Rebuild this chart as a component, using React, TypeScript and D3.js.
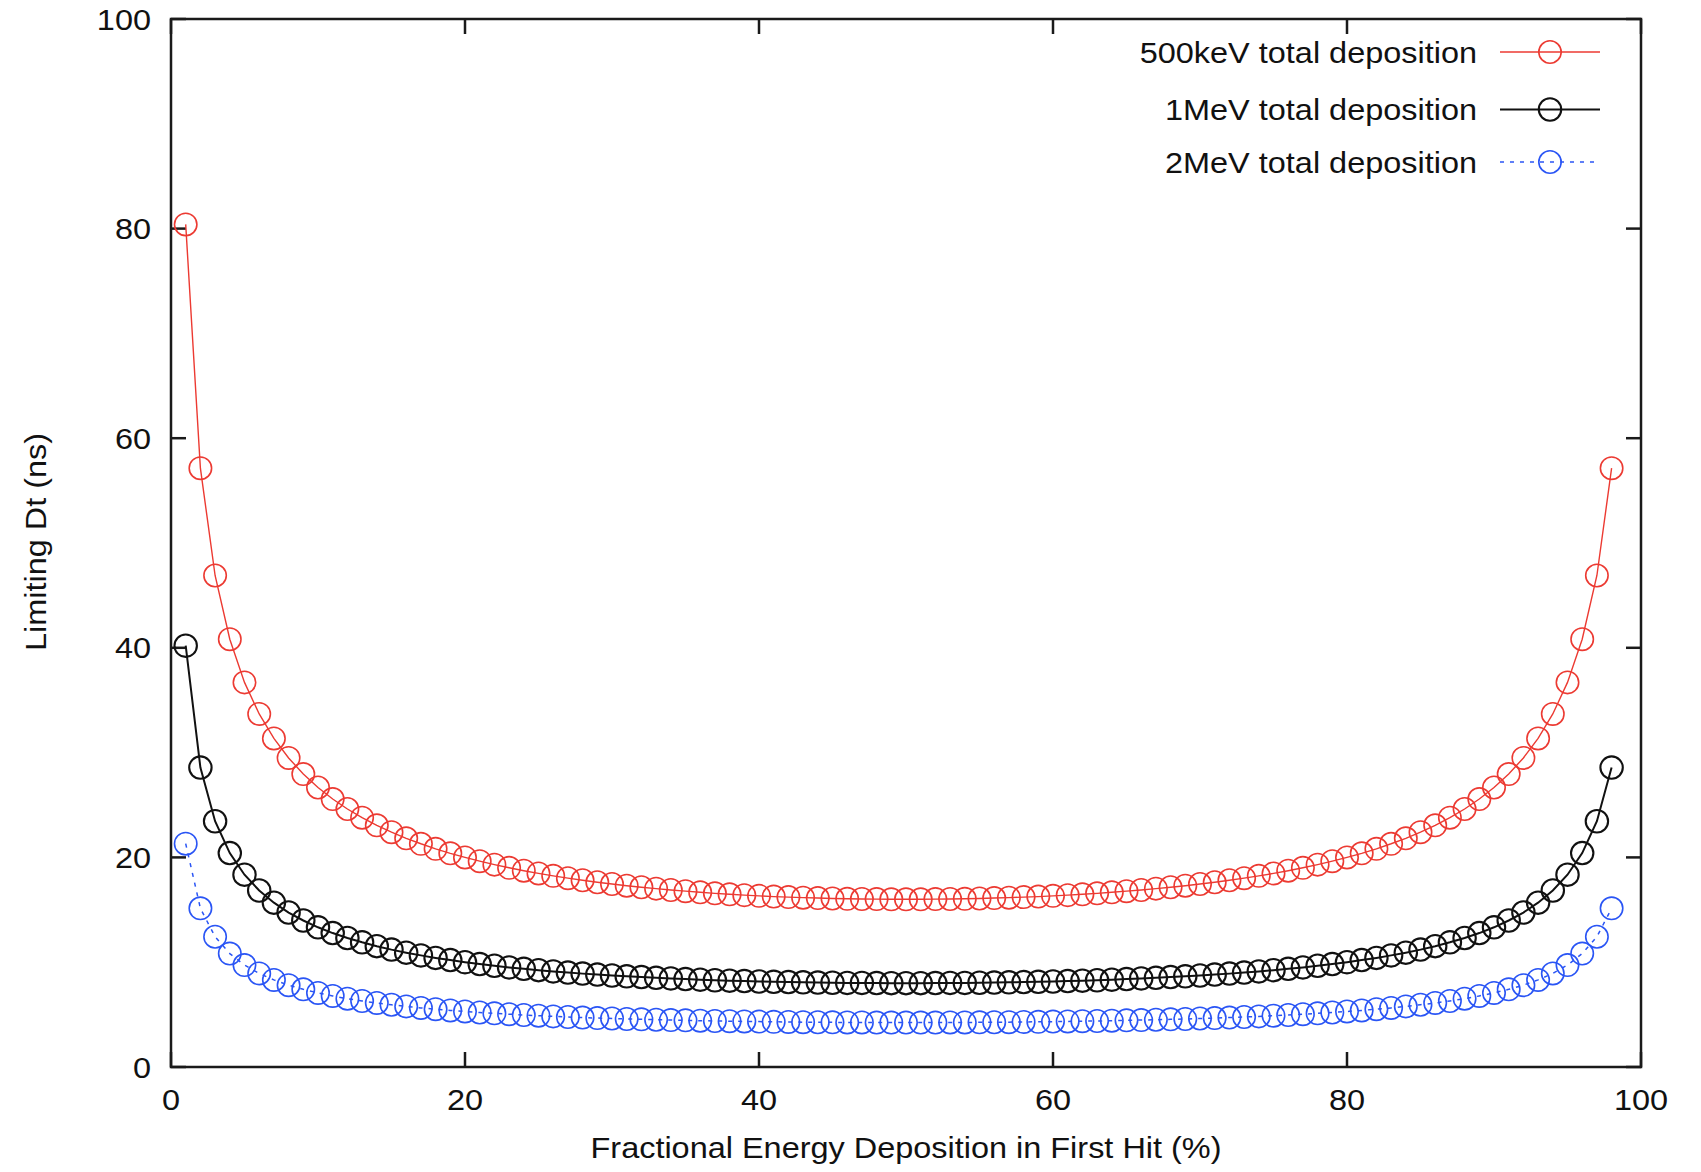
import React from "react";
import * as d3 from "d3";

const xValues = [
  1, 2, 3, 4, 5, 6, 7, 8, 9, 10, 11, 12, 13, 14, 15, 16, 17, 18, 19, 20,
  21, 22, 23, 24, 25, 26, 27, 28, 29, 30, 31, 32, 33, 34, 35, 36, 37, 38, 39, 40,
  41, 42, 43, 44, 45, 46, 47, 48, 49, 50, 51, 52, 53, 54, 55, 56, 57, 58, 59, 60,
  61, 62, 63, 64, 65, 66, 67, 68, 69, 70, 71, 72, 73, 74, 75, 76, 77, 78, 79, 80,
  81, 82, 83, 84, 85, 86, 87, 88, 89, 90, 91, 92, 93, 94, 95, 96, 97, 98,
];

const dt500keV = [
  80.4, 57.14, 46.9, 40.82, 36.7, 33.69, 31.35, 29.49, 27.95, 26.67,
  25.57, 24.62, 23.79, 23.06, 22.41, 21.82, 21.3, 20.82, 20.39, 20.0,
  19.64, 19.31, 19.01, 18.73, 18.47, 18.24, 18.02, 17.82, 17.63, 17.46,
  17.3, 17.15, 17.02, 16.89, 16.78, 16.67, 16.57, 16.48, 16.4, 16.33,
  16.26, 16.21, 16.16, 16.12, 16.08, 16.05, 16.03, 16.02, 16.0, 16.0,
  16.0, 16.02, 16.03, 16.05, 16.08, 16.12, 16.16, 16.21, 16.26, 16.33,
  16.4, 16.48, 16.57, 16.67, 16.78, 16.89, 17.02, 17.15, 17.3, 17.46,
  17.63, 17.82, 18.02, 18.24, 18.47, 18.73, 19.01, 19.31, 19.64, 20.0,
  20.39, 20.82, 21.3, 21.82, 22.41, 23.06, 23.79, 24.62, 25.57, 26.67,
  27.95, 29.49, 31.35, 33.69, 36.7, 40.82, 46.9, 57.14,
];

const dt1MeV = [
  40.2, 28.57, 23.45, 20.41, 18.35, 16.84, 15.68, 14.74, 13.98, 13.33,
  12.78, 12.31, 11.9, 11.53, 11.2, 10.91, 10.65, 10.41, 10.2, 10.0,
  9.82, 9.66, 9.5, 9.37, 9.24, 9.12, 9.01, 8.91, 8.82, 8.73,
  8.65, 8.58, 8.51, 8.45, 8.39, 8.33, 8.28, 8.24, 8.2, 8.16,
  8.13, 8.1, 8.08, 8.06, 8.04, 8.02, 8.02, 8.01, 8.0, 8.0,
  8.0, 8.01, 8.02, 8.02, 8.04, 8.06, 8.08, 8.1, 8.13, 8.16,
  8.2, 8.24, 8.28, 8.33, 8.39, 8.45, 8.51, 8.58, 8.65, 8.73,
  8.82, 8.91, 9.01, 9.12, 9.24, 9.37, 9.5, 9.66, 9.82, 10.0,
  10.2, 10.41, 10.65, 10.91, 11.2, 11.53, 11.9, 12.31, 12.78, 13.33,
  13.98, 14.74, 15.68, 16.84, 18.35, 20.41, 23.45, 28.57,
];

const dt2MeV = [
  21.31, 15.14, 12.43, 10.82, 9.73, 8.93, 8.31, 7.81, 7.41, 7.07,
  6.78, 6.52, 6.3, 6.11, 5.94, 5.78, 5.64, 5.52, 5.4, 5.3,
  5.2, 5.12, 5.04, 4.96, 4.9, 4.83, 4.77, 4.72, 4.67, 4.63,
  4.58, 4.55, 4.51, 4.48, 4.45, 4.42, 4.39, 4.37, 4.35, 4.33,
  4.31, 4.3, 4.28, 4.27, 4.26, 4.25, 4.25, 4.24, 4.24, 4.24,
  4.24, 4.24, 4.25, 4.25, 4.26, 4.27, 4.28, 4.3, 4.31, 4.33,
  4.35, 4.37, 4.39, 4.42, 4.45, 4.48, 4.51, 4.55, 4.58, 4.63,
  4.67, 4.72, 4.77, 4.83, 4.9, 4.96, 5.04, 5.12, 5.2, 5.3,
  5.4, 5.52, 5.64, 5.78, 5.94, 6.11, 6.3, 6.52, 6.78, 7.07,
  7.41, 7.81, 8.31, 8.93, 9.73, 10.82, 12.43, 15.14,
];

const seriesLabels = ["500keV total deposition", "1MeV total deposition", "2MeV total deposition"];
const xTicks = [0, 20, 40, 60, 80, 100];
const yTicks = [0, 20, 40, 60, 80, 100];
const xTitle = "Fractional Energy Deposition in First Hit (%)";
const yTitle = "Limiting Dt (ns)";

const W = 1701;
const H = 1172;
const left = 171;
const right = 1641;
const top = 19;
const bottom = 1067;
const FONT = "'Liberation Sans', Arial, Helvetica, sans-serif";
const FS = 29.5;
const SX = 1.1;
const TXT = "#111111";
const AX = "#1a1a1a";

function T(props: { x: number; y: number; anchor?: string; rot?: boolean; children: React.ReactNode }) {
  const { x, y, anchor = "start", rot = false, children } = props;
  const tr = rot
    ? `translate(${x},${y}) rotate(-90) scale(${SX},1)`
    : `translate(${x},${y}) scale(${SX},1)`;
  return (
    <text transform={tr} textAnchor={anchor} fontFamily={FONT} fontSize={FS} fill={TXT}>
      {children}
    </text>
  );
}

export default function App() {
  const x = d3.scaleLinear().domain([0, 100]).range([left, right]);
  const y = d3.scaleLinear().domain([0, 100]).range([bottom, top]);

  const series = [
    { label: seriesLabels[0], values: dt500keV, color: "#ec3a32", lw: 1.4, cw: 1.6, dash: undefined as string | undefined },
    { label: seriesLabels[1], values: dt1MeV, color: "#111111", lw: 2, cw: 2.1, dash: undefined as string | undefined },
    { label: seriesLabels[2], values: dt2MeV, color: "#2a55f5", lw: 1.5, cw: 1.6, dash: "4,6" },
  ];

  const line = d3
    .line<number>()
    .x((_, i) => x(xValues[i]))
    .y((d) => y(d));

  const R = 11.2;
  const tickLen = 15;
  const legendRows = [52, 109.5, 162];

  return (
    <svg
      width={W}
      height={H}
      viewBox={`0 0 ${W} ${H}`}
      style={{ position: "absolute", left: 0, top: 0, background: "#fff" }}
    >
      <rect x={0} y={0} width={W} height={H} fill="#fff" />

      {xTicks.map((t) => (
        <g key={`xt${t}`}>
          <line x1={x(t)} x2={x(t)} y1={bottom} y2={bottom - tickLen} stroke={AX} strokeWidth={2.5} />
          <line x1={x(t)} x2={x(t)} y1={top} y2={top + tickLen} stroke={AX} strokeWidth={2.5} />
          <T x={x(t)} y={1110} anchor="middle">{t}</T>
        </g>
      ))}
      {yTicks.map((t) => (
        <g key={`yt${t}`}>
          <line x1={left} x2={left + tickLen} y1={y(t)} y2={y(t)} stroke={AX} strokeWidth={2.5} />
          <line x1={right} x2={right - tickLen} y1={y(t)} y2={y(t)} stroke={AX} strokeWidth={2.5} />
          <T x={151} y={y(t) + 10.5} anchor="end">{t}</T>
        </g>
      ))}

      {series.map((s, si) => (
        <g key={`s${si}`}>
          <path d={line(s.values) || ""} fill="none" stroke={s.color} strokeWidth={s.lw} strokeDasharray={s.dash} />
          {s.values.map((v, i) => (
            <circle key={i} cx={x(xValues[i])} cy={y(v)} r={R} fill="none" stroke={s.color} strokeWidth={s.cw} />
          ))}
        </g>
      ))}

      <rect x={left} y={top} width={right - left} height={bottom - top} fill="none" stroke={AX} strokeWidth={2.5} />

      {series.map((s, si) => (
        <g key={`lg${si}`}>
          <T x={1477} y={legendRows[si] + 10.5} anchor="end">{s.label}</T>
          <line x1={1500} x2={1600} y1={legendRows[si]} y2={legendRows[si]} stroke={s.color} strokeWidth={s.lw} strokeDasharray={s.dash} />
          <circle cx={1550} cy={legendRows[si]} r={R} fill="none" stroke={s.color} strokeWidth={s.cw} />
        </g>
      ))}

      <T x={(left + right) / 2} y={1158} anchor="middle">{xTitle}</T>
      <T x={46} y={542} anchor="middle" rot>{yTitle}</T>
    </svg>
  );
}
